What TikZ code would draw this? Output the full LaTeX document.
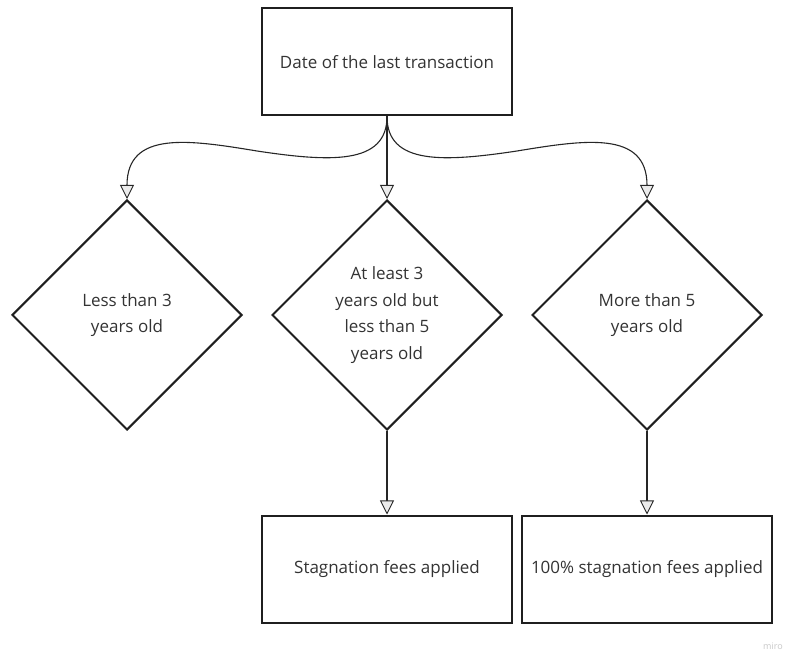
\documentclass[tikz,border=0pt]{standalone}
\usepackage{fontspec}
\setmainfont{Open Sans}
\usetikzlibrary{shapes.geometric,arrows.meta}
\begin{document}
\begin{tikzpicture}[x=1pt,y=-1pt,
  lbl/.style={font=\fontsize{17}{26.5}\selectfont, text=black!80, align=center},
  box/.style={lbl, draw=black!88, line width=2pt, minimum width=250pt, minimum height=107pt, inner sep=0pt},
  dia/.style={lbl, draw=black!88, shape=diamond, line width=2pt, minimum width=230pt, minimum height=230pt, inner sep=0pt},
  conn/.style={draw=black!85, line width=1.1pt, -{Triangle[length=14pt,width=14pt,fill=black!8,line width=0.9pt]}}]
\useasboundingbox (0,0) rectangle (788,652);
\node[box] (top) at (387,62) {Date of the last transaction};
\node[dia] (d1) at (127,315) {Less than 3\\years old};
\node[dia] (d2) at (387,315) {At least 3\\years old but\\less than 5\\years old};
\node[dia] (d3) at (647,315) {More than 5\\years old};
\node[box] (b1) at (387,569) {Stagnation fees applied};
\node[box] (b2) at (647,569) {100\% stagnation fees applied};
\node[font=\fontsize{9}{9}\selectfont, text=black!22] (wm) at (773,646) {miro};
\coordinate (lm) at (257,151);
\coordinate (rm) at (517,151);
\draw[conn] (top.south) .. controls (387,165) and (330,162) .. (lm) .. controls (190,140) and (127,130) .. (d1.north);
\draw[conn] (top.south) .. controls (387,165) and (444,162) .. (rm) .. controls (584,140) and (647,130) .. (d3.north);
\draw[conn] (top.south) -- (d2.north);
\draw[conn] (d2.south) -- (b1.north);
\draw[conn] (d3.south) -- (b2.north);
\end{tikzpicture}
\end{document}
